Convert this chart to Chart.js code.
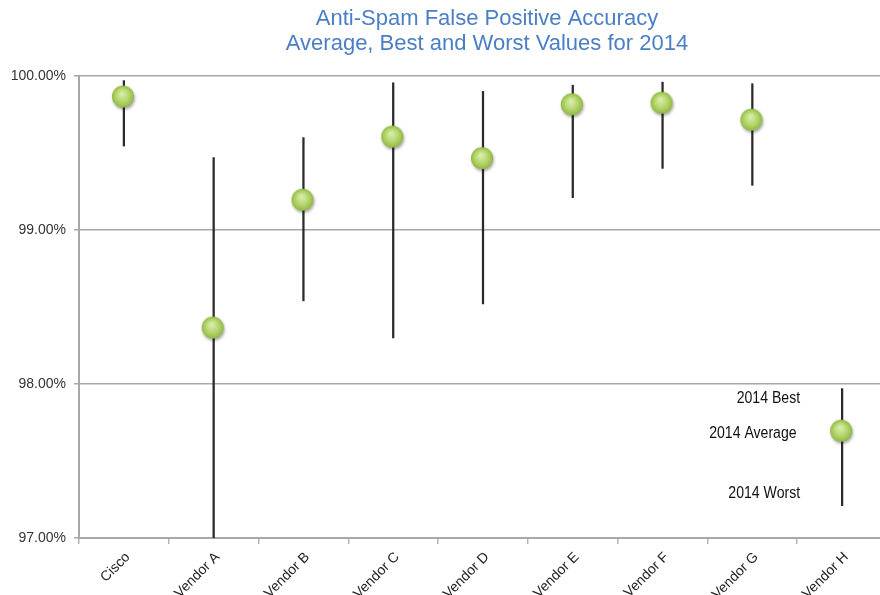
<!DOCTYPE html>
<html lang="en">
<head>
  <meta charset="UTF-8" />
  <title>Anti-Spam False Positive Accuracy</title>
  <script src="https://cdn.jsdelivr.net/npm/chart.js"></script>
  <style>
    html, body {
      margin: 0;
      padding: 0;
      background: #fff;
      overflow: hidden;
    }
    canvas { display: block; }
  </style>
</head>
<body>
  <canvas id="fpChart" width="899" height="595"></canvas>
  <script>
    const vendors = ["Cisco", "Vendor A", "Vendor B", "Vendor C", "Vendor D", "Vendor E", "Vendor F", "Vendor G", "Vendor H"];
    const best2014 = [99.97, 99.47, 99.60, 99.955, 99.90, 99.94, 99.96, 99.95, 97.97];
    const avg2014 = [99.86, 98.36, 99.19, 99.60, 99.46, 99.81, 99.82, 99.71, 97.69];
    const worst2014 = [99.545, 96.9, 98.54, 98.30, 98.52, 99.21, 99.40, 99.29, 97.21];
    const yTicks = [97, 98, 99, 100];
    const titleLines = ["Anti-Spam False Positive Accuracy", "Average, Best and Worst Values for 2014"];
    const keyLabels = ["2014 Best", "2014 Average", "2014 Worst"];

    // green marble marker, drawn once and reused as the point style
    function makeDot() {
      const c = document.createElement("canvas");
      c.width = 32; c.height = 32;
      const g = c.getContext("2d");
      g.shadowColor = "rgba(0,0,0,0.35)";
      g.shadowBlur = 3;
      g.shadowOffsetX = 1;
      g.shadowOffsetY = 2;
      g.beginPath();
      g.arc(15, 15, 11, 0, Math.PI * 2);
      g.fillStyle = "#8fb843";
      g.fill();
      g.shadowColor = "transparent";
      const grad = g.createRadialGradient(14, 12, 1, 15, 15, 11);
      grad.addColorStop(0, "#d8eca9");
      grad.addColorStop(0.55, "#b5d66c");
      grad.addColorStop(1, "#92ba46");
      g.beginPath();
      g.arc(15, 15, 10.5, 0, Math.PI * 2);
      g.fillStyle = grad;
      g.fill();
      return c;
    }

    const overlayText = {
      id: "overlayText",
      afterDraw(chart) {
        const ctx = chart.ctx;
        const area = chart.chartArea;
        ctx.save();
        ctx.fillStyle = "#4a7fc6";
        ctx.font = '22px "Liberation Sans", Arial, sans-serif';
        ctx.textAlign = "center";
        ctx.textBaseline = "middle";
        const cx = (area.left + area.right) / 2 + 4;
        ctx.fillText(titleLines[0], cx, 19);
        ctx.fillText(titleLines[1], cx, 44);

        // key labels next to the last vendor's marker, narrowed to match
        const x = chart.scales.x.getPixelForValue(8) - 42;
        const y = chart.scales.y;
        ctx.fillStyle = "#111";
        ctx.font = '16px "Liberation Sans", Arial, sans-serif';
        ctx.textAlign = "right";
        ctx.translate(x, 0);
        ctx.scale(0.88, 1);
        ctx.fillText(keyLabels[0], 0, y.getPixelForValue(best2014[8]) + 10);
        ctx.fillText(keyLabels[1], -4, y.getPixelForValue(avg2014[8]) + 2);
        ctx.fillText(keyLabels[2], 0, y.getPixelForValue(worst2014[8]) - 12);
        ctx.restore();
      }
    };

    const ctx = document.getElementById("fpChart").getContext("2d");
    new Chart(ctx, {
      data: {
        labels: vendors,
        datasets: [
          {
            type: "line",
            label: "2014 Average",
            data: avg2014,
            showLine: false,
            pointStyle: makeDot(),
            pointRadius: 11,
            pointHoverRadius: 11,
            order: 0
          },
          {
            type: "bar",
            label: "Range",
            data: worst2014.map((w, i) => [w, best2014[i]]),
            backgroundColor: "#2a2a2a",
            barThickness: 1.6,
            borderSkipped: false,
            order: 1
          }
        ]
      },
      options: {
        responsive: false,
        animation: false,
        layout: { padding: { top: 76, left: 0, right: 0, bottom: 0 } },
        plugins: {
          legend: { display: false },
          tooltip: { enabled: false },
          title: { display: false }
        },
        scales: {
          x: {
            offset: true,
            grid: {
              offset: true,
              drawOnChartArea: false,
              drawTicks: true,
              tickLength: 6,
              color: "#b5b5b5",
              lineWidth: 1.5
            },
            border: { color: "#a8a8a8", width: 2 },
            ticks: {
              minRotation: 45,
              maxRotation: 45,
              padding: 5,
              labelOffset: 4,
              color: "#222",
              font: { family: "Liberation Sans", size: 14 }
            },
            afterFit(scale) { scale.height = 57; }
          },
          y: {
            min: 97,
            max: 100,
            afterBuildTicks(scale) { scale.ticks = yTicks.map(v => ({ value: v })); },
            grid: {
              color: "#a8a8a8",
              lineWidth: 1.5,
              tickLength: 5
            },
            border: { color: "#a8a8a8", width: 2 },
            ticks: {
              padding: 8,
              color: "#333",
              font: { family: "Liberation Sans", size: 14 },
              callback: v => v.toFixed(2) + "%"
            },
            afterFit(scale) { scale.width = 79; }
          }
        }
      },
      plugins: [overlayText]
    });
  </script>
</body>
</html>
